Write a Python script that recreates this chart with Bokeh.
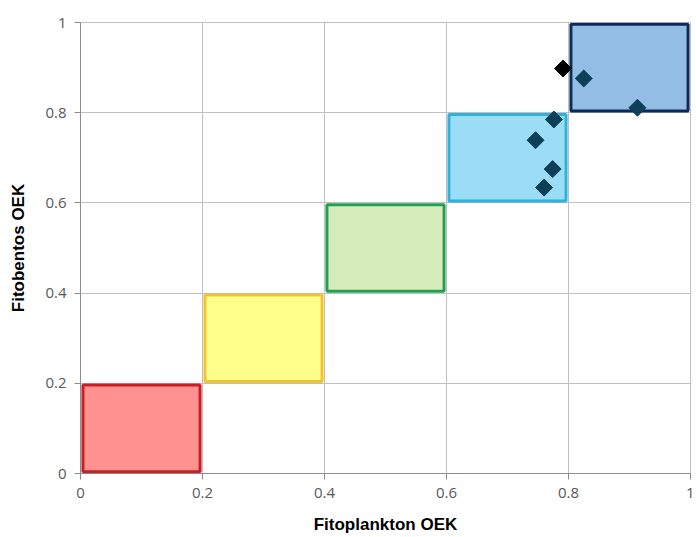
from bokeh.plotting import figure
from bokeh.models import Range1d, ColumnDataSource, FixedTicker
from bokeh.embed import file_html
from bokeh.resources import INLINE
import numpy as np

# Class boxes (OEK boundaries)
box_lo = [0.0, 0.2, 0.4, 0.6, 0.8]
box_hi = [0.2, 0.4, 0.6, 0.8, 1.0]
box_fill = ["#ff9191", "#ffff8c", "#d5ecbb", "#9bdcf6", "#93bde4"]
box_line = ["#c81e24", "#f2c530", "#22a052", "#2fb1d8", "#0b2a5c"]

# Points: phytoplankton OEK (x), phytobenthos OEK (y)
pt_x = [0.791, 0.825, 0.913, 0.776, 0.746, 0.774, 0.760]
pt_y = [0.898, 0.876, 0.811, 0.785, 0.739, 0.675, 0.634]
pt_col = ["#000000", "#0e3f58", "#0e3f58", "#0e3f58", "#0e3f58", "#0e3f58", "#0e3f58"]

ticks = [0, 0.2, 0.4, 0.6, 0.8, 1]

p = figure(width=694, height=536, output_backend="svg", toolbar_location=None,
           x_range=Range1d(0, 1), y_range=Range1d(0, 1),
           min_border_left=80, min_border_right=4, min_border_top=22, min_border_bottom=62)

inset = 0.004
p.quad(left=[v + inset for v in box_lo], right=[v - inset for v in box_hi],
       bottom=[v + inset for v in box_lo], top=[v - inset for v in box_hi],
       fill_color=box_fill, line_color=box_line, line_width=3)

src = ColumnDataSource(dict(x=pt_x, y=pt_y, c=pt_col))
p.scatter("x", "y", source=src, marker="square", angle=np.pi / 4, size=12,
          fill_color="c", line_color="c")

for ax in (p.xaxis[0], p.yaxis[0]):
    ax.ticker = FixedTicker(ticks=ticks)
    ax.major_label_overrides = {0: "0", 1: "1"}
    ax.axis_line_color = "#8c8c8c"
    ax.major_tick_line_color = "#8c8c8c"
    ax.major_tick_out = 6
    ax.major_tick_in = 0
    ax.minor_tick_line_color = None
    ax.major_label_text_font = "Open Sans"
    ax.major_label_text_font_size = "15px"
    ax.major_label_text_color = "#595959"
    ax.axis_label_text_font = "Liberation Sans"
    ax.axis_label_text_font_style = "bold"
    ax.axis_label_text_font_size = "17px"
    ax.axis_label_text_color = "#000000"
    ax.axis_label_standoff = 14

p.xaxis.axis_label = "Fitoplankton OEK"
p.yaxis.axis_label = "Fitobentos OEK"
p.xaxis.major_label_standoff = 8
p.yaxis.major_label_standoff = 8

for g in (p.xgrid[0], p.ygrid[0]):
    g.ticker = FixedTicker(ticks=ticks)
    g.grid_line_color = "#c0c0c0"
    g.grid_line_width = 1

p.outline_line_color = "#c0c0c0"
p.background_fill_color = "white"
p.border_fill_color = "white"

open("out.html", "w").write(file_html(p, INLINE))
